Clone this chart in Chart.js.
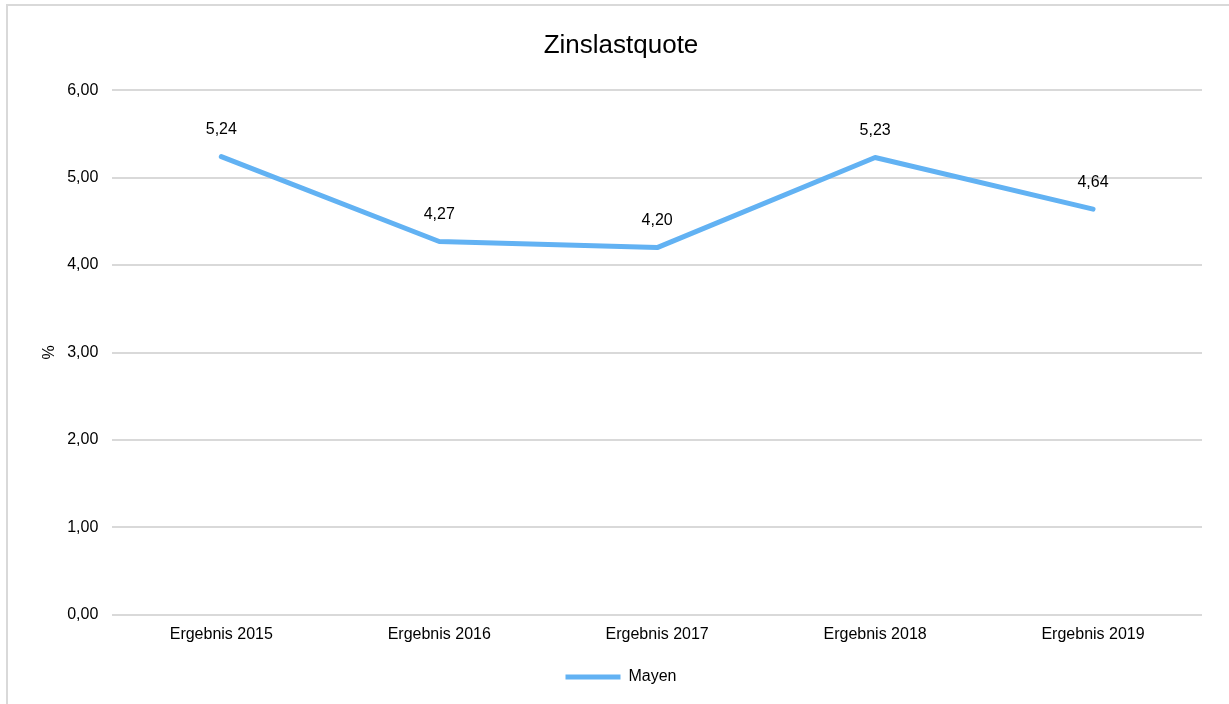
<!DOCTYPE html>
<html>
<head>
<meta charset="utf-8">
<script src="https://cdn.jsdelivr.net/npm/chart.js@4/dist/chart.umd.min.js"></script>
<style>
  body { margin: 0; background: #fff; }
  #wrap { width: 1229px; height: 704px; }
</style>
</head>
<body>
<div id="wrap"><canvas id="chartCanvas" width="1229" height="704"></canvas></div>
<script>
var yearLabels = ["Ergebnis 2015", "Ergebnis 2016", "Ergebnis 2017", "Ergebnis 2018", "Ergebnis 2019"];
var mayenValues = [5.24, 4.27, 4.20, 5.23, 4.64];
var seriesName = "Mayen";
var chartTitle = "Zinslastquote";
var yAxisTitle = "%";

var fontFam = "'Liberation Sans', Arial, sans-serif";

function fmt(v) {
    return v.toFixed(2).replace(".", ",");
}

// grey frame round the chart, like the Excel export
var framePlugin = {
    id: "frame",
    beforeDraw: function (chart) {
        var c = chart.ctx;
        c.save();
        c.fillStyle = "#fff";
        c.fillRect(0, 0, chart.width, chart.height);
        c.strokeStyle = "#d9d9d9";
        c.lineWidth = 2;
        c.strokeRect(7, 5, chart.width + 20, chart.height + 20);
        c.restore();
    }
};

// value labels above each point
var valueLabels = {
    id: "valueLabels",
    afterDatasetsDraw: function (chart) {
        var c = chart.ctx;
        var meta = chart.getDatasetMeta(0);
        c.save();
        c.font = "16px " + fontFam;
        c.fillStyle = "#000";
        c.textAlign = "center";
        c.textBaseline = "middle";
        meta.data.forEach(function (pt, i) {
            c.fillText(fmt(mayenValues[i]), pt.x, pt.y - 27);
        });
        c.restore();
    }
};

var ctx = document.getElementById("chartCanvas");
var lineChart = new Chart(ctx, {
    type: "line",
    data: {
        labels: yearLabels,
        datasets: [
            {
                label: seriesName,
                data: mayenValues,
                borderColor: "#62b2f3",
                backgroundColor: "#62b2f3",
                borderWidth: 5,
                borderCapStyle: "round",
                borderJoinStyle: "round",
                pointRadius: 0,
                pointStyle: "line",
                tension: 0
            }
        ]
    },
    options: {
        responsive: false,
        animation: false,
        layout: { padding: { top: 20, left: 40, right: 27, bottom: 9 } },
        plugins: {
            title: {
                display: true,
                text: chartTitle,
                color: "#000",
                font: { family: fontFam, size: 26, weight: "normal" },
                padding: { top: 10, bottom: 29 }
            },
            legend: {
                position: "bottom",
                labels: {
                    usePointStyle: true,
                    pointStyleWidth: 55,
                    color: "#000",
                    font: { family: fontFam, size: 16 },
                    padding: 15
                }
            },
            tooltip: { enabled: false }
        },
        scales: {
            x: {
                offset: true,
                grid: { display: false, drawTicks: false },
                border: { display: false },
                ticks: {
                    color: "#000",
                    font: { family: fontFam, size: 16 },
                    padding: 10,
                    maxRotation: 0
                }
            },
            y: {
                min: 0,
                max: 6,
                grid: { color: "#d9d9d9", lineWidth: 2, drawTicks: false },
                border: { display: false },
                ticks: {
                    stepSize: 1,
                    color: "#000",
                    font: { family: fontFam, size: 16 },
                    padding: 14,
                    callback: function (v) { return fmt(v); }
                },
                title: {
                    display: true,
                    text: yAxisTitle,
                    color: "#000",
                    font: { family: fontFam, size: 16 },
                    padding: { top: 0, bottom: -6 }
                }
            }
        }
    },
    plugins: [framePlugin, valueLabels]
});
</script>
</body>
</html>
